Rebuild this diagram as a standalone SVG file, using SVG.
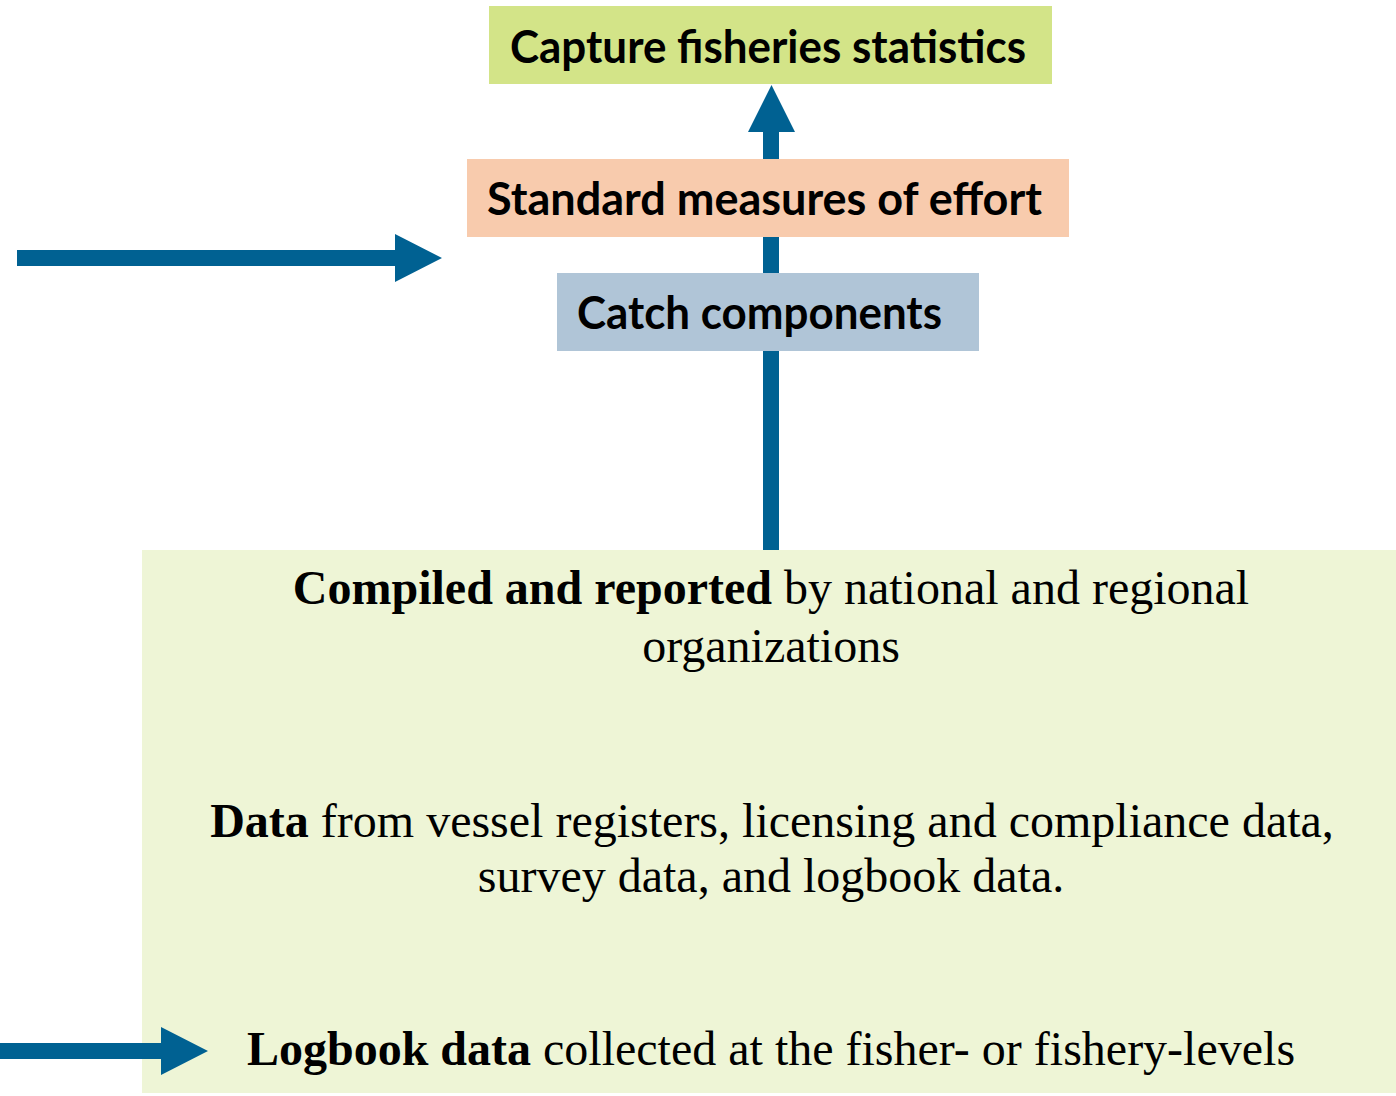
<svg xmlns="http://www.w3.org/2000/svg" width="1396" height="1096" viewBox="0 0 1396 1096">
<style>
.lbl{font-family:Lato,"Open Sans","Liberation Sans",sans-serif;font-weight:bold;font-size:46px;fill:#000}
.body{font-family:"Liberation Serif","Times New Roman",serif;font-size:48px;fill:#000;text-anchor:middle}
.b{font-weight:bold}
.arrow{fill:#006192}
</style>
<rect width="1396" height="1096" fill="#fff"/>
<g id="source-box">
<rect x="142" y="550" width="1254" height="543" fill="#EEF5D6"/>
<text class="body" x="771" y="604"><tspan class="b">Compiled and reported</tspan> by national and regional</text>
<text class="body" x="771" y="662">organizations</text>
<text class="body" x="772" y="837"><tspan class="b">Data</tspan> from vessel registers, licensing and compliance data,</text>
<text class="body" x="771" y="892">survey data, and logbook data.</text>
<text class="body" x="771" y="1065"><tspan class="b">Logbook data</tspan> collected at the fisher- or fishery-levels</text>
</g>
<g id="connectors">
<polygon class="arrow" points="763,550 779,550 779,132 795,132 771.5,85 748,132 763,132"/>
<polygon class="arrow" points="17,250 395,250 395,234 442,258 395,282 395,266 17,266"/>
<polygon class="arrow" points="0,1043 161,1043 161,1027 208,1051 161,1075 161,1059 0,1059"/>
</g>
<g id="capture">
<rect x="489" y="6" width="563" height="78" fill="#D3E488"/>
<text class="lbl" x="510" y="63" textLength="516" lengthAdjust="spacingAndGlyphs">Capture fisheries statistics</text>
</g>
<g id="effort">
<rect x="467" y="159" width="602" height="78" fill="#F8CBAD"/>
<text class="lbl" x="487" y="215" textLength="555" lengthAdjust="spacingAndGlyphs">Standard measures of effort</text>
</g>
<g id="catch">
<rect x="557" y="273" width="422" height="78" fill="#B0C5D7"/>
<text class="lbl" x="577" y="329" textLength="365" lengthAdjust="spacingAndGlyphs">Catch components</text>
</g>
</svg>
